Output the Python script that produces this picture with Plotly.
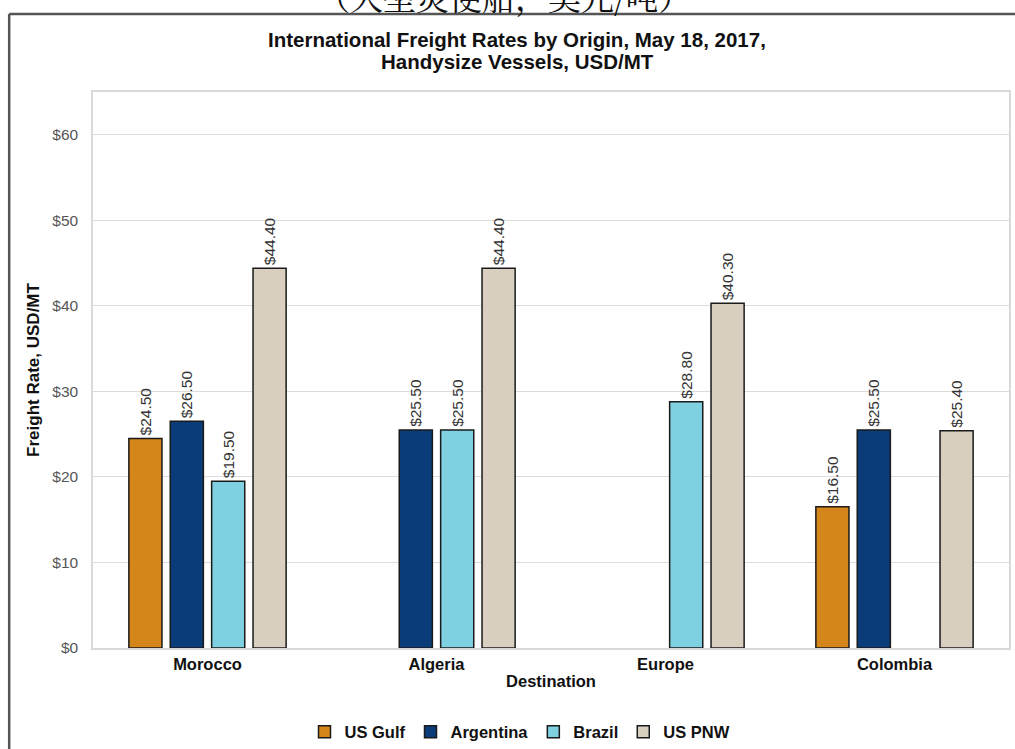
import plotly.graph_objects as go

categories = ["Morocco", "Algeria", "Europe", "Colombia"]
series_names = ["US Gulf", "Argentina", "Brazil", "US PNW"]
us_gulf = [24.5, None, None, 16.5]
argentina = [26.5, 25.5, None, 25.5]
brazil = [19.5, 25.5, 28.8, None]
us_pnw = [44.4, 44.4, 40.3, 25.4]
tick_vals = [0, 10, 20, 30, 40, 50, 60]
tick_text = ["$0", "$10", "$20", "$30", "$40", "$50", "$60"]

colors = ["#D4861A", "#0B3C7A", "#7FD0E0", "#D9CFC1"]
FONT = "Liberation Sans, Arial, sans-serif"

fig = go.Figure()
for name, vals, col in zip(series_names, [us_gulf, argentina, brazil, us_pnw], colors):
    fig.add_trace(go.Bar(
        name=name, x=categories, y=vals,
        marker=dict(color=col, line=dict(color="#1a1a1a", width=1.5)),
        text=[("$%.2f" % v) if v is not None else "" for v in vals],
        textposition="outside", textangle=-90, cliponaxis=False, constraintext="none",
        textfont=dict(family=FONT, size=15.5, color="#333333"),
    ))

W, H = 1015, 749
L, R, T, B = 93, 4, 92, 101
pw, ph = W - L - R, H - T - B

def px(x):
    return (x - L) / pw

def py(y):
    return (H - B - y) / ph

BOLD = dict(family=FONT, color="#111111", weight="bold")

fig.update_layout(
    width=W, height=H,
    margin=dict(l=L, r=R, t=T, b=B),
    paper_bgcolor="white", plot_bgcolor="white",
    barmode="group", bargap=0.277, bargroupgap=0.2,
    font=dict(family=FONT, color="#333333"),
    xaxis=dict(
        showgrid=False, showline=True, linecolor="#d9d9d9", linewidth=1.5, mirror=True,
        tickfont=dict(size=16.5, **BOLD),
        title=dict(text="Destination", font=dict(size=16.5, **BOLD), standoff=4),
        ticks="",
    ),
    yaxis=dict(
        range=[0, 65], tickvals=tick_vals, ticktext=tick_text,
        showgrid=True, gridcolor="#dcdcdc", gridwidth=1,
        showline=True, linecolor="#d9d9d9", linewidth=1.5, mirror=True,
        zeroline=False,
        tickfont=dict(family=FONT, size=15.5, color="#555555"),
        ticklabelstandoff=10,
        title=dict(text="Freight Rate, USD/MT", font=dict(size=17, **BOLD), standoff=8),
    ),
    legend=dict(
        orientation="h", x=520 / W, xref="container", xanchor="center",
        y=1 - 732 / H, yref="container", yanchor="middle",
        font=dict(size=16.5, **BOLD),
        itemwidth=30, traceorder="normal", tracegroupgap=0,
    ),
    shapes=[
        dict(type="line", xref="paper", yref="paper", x0=px(9), x1=px(1030), y0=py(14), y1=py(14),
             line=dict(color="#555555", width=2.5)),
        dict(type="line", xref="paper", yref="paper", x0=px(9), x1=px(9), y0=py(14), y1=py(760),
             line=dict(color="#555555", width=2.5)),
    ],
    annotations=[
        dict(text="International Freight Rates by Origin, May 18, 2017,", xref="paper", yref="paper",
             x=px(518), y=py(40), xanchor="center", yanchor="middle", showarrow=False,
             font=dict(size=20.5, **BOLD)),
        dict(text="Handysize Vessels, USD/MT", xref="paper", yref="paper",
             x=px(518), y=py(62), xanchor="center", yanchor="middle", showarrow=False,
             font=dict(size=20.5, **BOLD)),
        dict(text="（大型灵便船，美元/吨）", xref="paper", yref="paper",
             x=px(505), y=py(-4), xanchor="center", yanchor="middle", showarrow=False,
             font=dict(family="Noto Serif CJK SC, Noto Sans CJK SC, serif", size=33, color="#111111")),
    ],
)

fig.write_html(
    "out.html",
    config={"displayModeBar": False},
    post_script="document.documentElement.style.margin='0';document.body.style.margin='0';document.body.style.padding='0';document.body.style.overflow='hidden';",
)
